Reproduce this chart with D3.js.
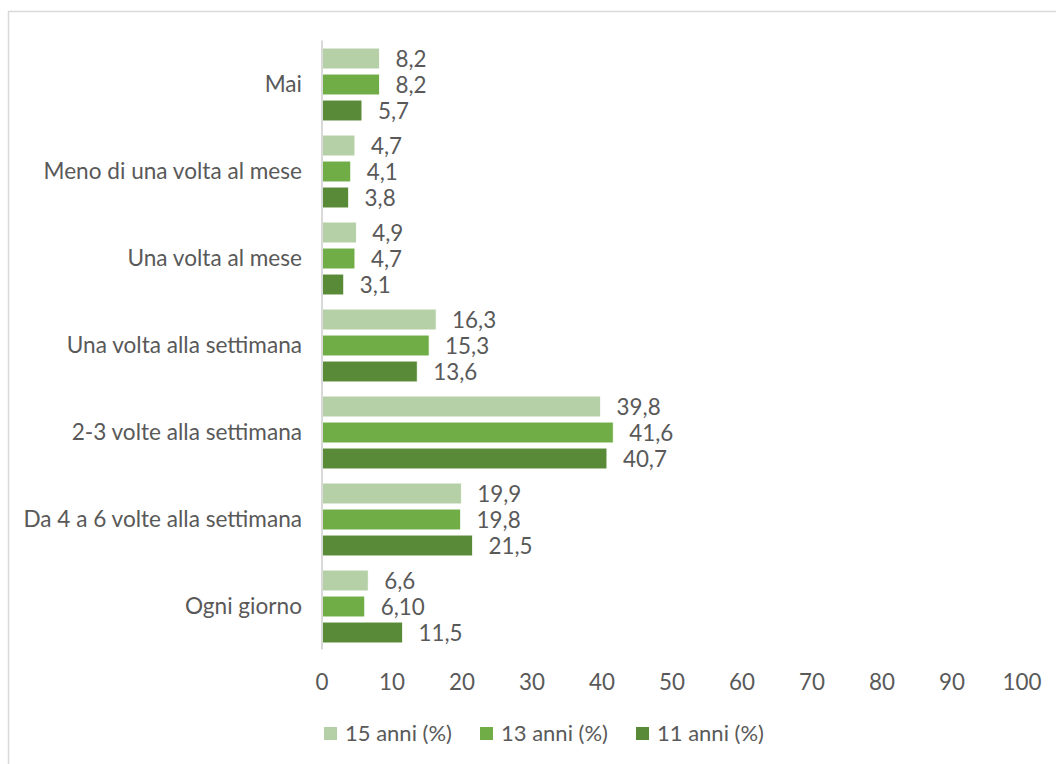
<!DOCTYPE html>
<html>
<head>
<meta charset="utf-8">
<style>
  body { margin: 0; background: #fff; }
  svg text { font-family: Lato, "Open Sans", sans-serif; fill: #595959; }
</style>
</head>
<body>
<svg width="1056" height="764"></svg>
<script src="https://cdn.jsdelivr.net/npm/d3@7/dist/d3.min.js"></script>
<script>
var categories = ["Mai", "Meno di una volta al mese", "Una volta al mese",
  "Una volta alla settimana", "2-3 volte alla settimana",
  "Da 4 a 6 volte alla settimana", "Ogni giorno"];

var seriesNames = ["15 anni (%)", "13 anni (%)", "11 anni (%)"];
var seriesColors = ["#b5cfa6", "#70ad47", "#598a38"];

var anni15 = [8.2, 4.7, 4.9, 16.3, 39.8, 19.9, 6.6];
var anni13 = [8.2, 4.1, 4.7, 15.3, 41.6, 19.8, 6.1];
var anni11 = [5.7, 3.8, 3.1, 13.6, 40.7, 21.5, 11.5];

// labels as printed on the chart (note the "6,10")
var labels15 = ["8,2", "4,7", "4,9", "16,3", "39,8", "19,9", "6,6"];
var labels13 = ["8,2", "4,1", "4,7", "15,3", "41,6", "19,8", "6,10"];
var labels11 = ["5,7", "3,8", "3,1", "13,6", "40,7", "21,5", "11,5"];

var xTicks = [0, 10, 20, 30, 40, 50, 60, 70, 80, 90, 100];

var series = [
  {name: seriesNames[0], values: anni15, labels: labels15, color: seriesColors[0]},
  {name: seriesNames[1], values: anni13, labels: labels13, color: seriesColors[1]},
  {name: seriesNames[2], values: anni11, labels: labels11, color: seriesColors[2]}
];

var svg = d3.select("svg");

// chart border
svg.append("rect")
    .attr("x", 8.5).attr("y", 11.5)
    .attr("width", 1100).attr("height", 800)
    .attr("fill", "none")
    .attr("stroke", "#d9d9d9")
    .attr("stroke-width", 1.5);

var x = d3.scaleLinear().domain([0, 100]).range([322, 1022]);

var y = d3.scaleBand()
    .domain(categories)
    .range([40.5, 649.5])
    .paddingInner(0)
    .paddingOuter(0);

var ySub = d3.scaleBand()
    .domain(d3.range(series.length))
    .range([5, y.bandwidth() - 4])
    .paddingInner(0.2)
    .paddingOuter(0.1);

var groups = svg.selectAll(".grp")
  .data(series)
  .enter().append("g")
    .attr("class", "grp");

groups.selectAll("rect")
  .data(function(s, si) {
    return s.values.map(function(v, i) { return {v: v, lab: s.labels[i], cat: categories[i], si: si, color: s.color}; });
  })
  .enter().append("rect")
    .attr("x", x(0))
    .attr("y", function(d) { return y(d.cat) + ySub(d.si); })
    .attr("width", function(d) { return x(d.v) - x(0); })
    .attr("height", ySub.bandwidth())
    .attr("fill", function(d) { return d.color; })
    .attr("stroke", "#fff")
    .attr("stroke-width", 0.75);

groups.selectAll("text")
  .data(function(s, si) {
    return s.values.map(function(v, i) { return {v: v, lab: s.labels[i], cat: categories[i], si: si}; });
  })
  .enter().append("text")
    .attr("x", function(d) { return x(d.v) + 16; })
    .attr("y", function(d) { return y(d.cat) + ySub(d.si) + ySub.bandwidth() / 2; })
    .attr("dy", "0.36em")
    .style("font-size", "22.4px")
    .text(function(d) { return d.lab; });

// category labels
svg.append("g").selectAll("text")
  .data(categories)
  .enter().append("text")
    .attr("x", 302)
    .attr("y", function(d) { return y(d) + y.bandwidth() / 2; })
    .attr("dy", "0.36em")
    .attr("text-anchor", "end")
    .style("font-size", "22.6px")
    .text(function(d) { return d; });

// vertical axis line
svg.append("line")
    .attr("x1", x(0)).attr("x2", x(0))
    .attr("y1", 40.5).attr("y2", 649.5)
    .attr("stroke", "#d9d9d9")
    .attr("stroke-width", 2);

// x tick labels
svg.append("g").selectAll("text")
  .data(xTicks)
  .enter().append("text")
    .attr("x", function(d) { return x(d); })
    .attr("y", 690)
    .attr("text-anchor", "middle")
    .style("font-size", "22.4px")
    .text(function(d) { return d; });

// legend
var legendX = [324, 480, 636];
var legend = svg.append("g").selectAll("g")
  .data(series)
  .enter().append("g")
    .attr("transform", function(d, i) { return "translate(" + legendX[i] + ",727)"; });

legend.append("rect")
    .attr("width", 13).attr("height", 13)
    .attr("fill", function(d) { return d.color; });

legend.append("text")
    .attr("x", 21)
    .attr("y", 6.5)
    .attr("dy", "0.36em")
    .style("font-size", "22px")
    .text(function(d) { return d.name; });
</script>
</body>
</html>
